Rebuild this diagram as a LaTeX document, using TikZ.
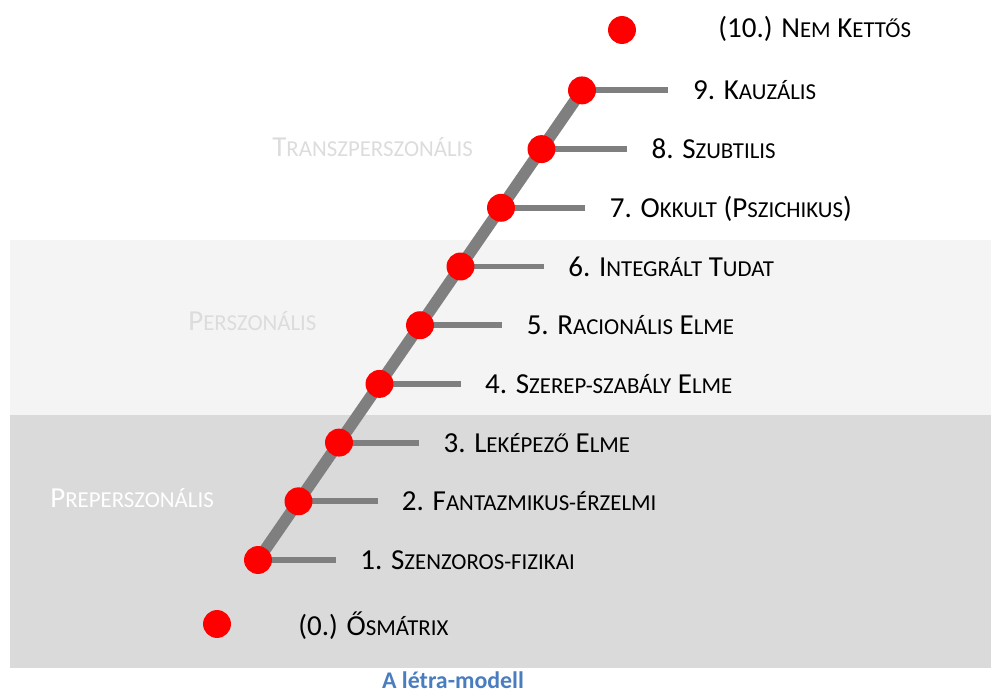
\documentclass[tikz,border=0pt]{standalone}
\usepackage{fontspec}
\setmainfont{Carlito}
\definecolor{letra}{HTML}{7F7F7F}
\definecolor{vilagos}{HTML}{F4F4F4}
\definecolor{sotet}{HTML}{DADADA}
\definecolor{halvany}{HTML}{DCDCDC}
\definecolor{felirat}{HTML}{4A7DC0}
\newcommand\kis[1]{{\fontsize{13pt}{14pt}\selectfont #1}}
\begin{document}
\begin{tikzpicture}[x=0.02cm,y=-0.02cm,
	pont/.style={circle,fill=red,minimum size=15.9pt,inner sep=0pt},
	fok/.style={line width=3.4pt,draw=letra},
	szoveg/.style={anchor=base west,inner sep=0pt,font=\fontsize{16.5pt}{18pt}\selectfont},
	szint/.style={szoveg,text=halvany}]
		\useasboundingbox (0,0) rectangle (991,693);
		
		% sávok
		\fill[vilagos] (10,240) rectangle (991,415);
		\fill[sotet] (10,415) rectangle (991,668);
		
		\node[szint] (transz) at (272,156) {T\kis{RANSZPERSZONÁLIS}};
		\node[szint] (persz) at (188,330) {P\kis{ERSZONÁLIS}};
		\node[szint,text=white] (prepersz) at (50,507) {P\kis{REPERSZONÁLIS}};
		
		% létra és fokok
		\foreach \i in {1,...,9}
		\coordinate (p\i) at ({258+(\i-1)*40.5},{560-(\i-1)*58.7});
		\foreach \i in {1,...,9}
		\coordinate (v\i) at ({336+(\i-1)*41.5},{560-(\i-1)*58.7});
		\draw[letra,line width=6.6pt] (p1) -- (p9);
		\foreach \i in {1,...,9}
		\draw[fok] (p\i) -- (v\i);
		\foreach \i in {1,...,9}
		\node[pont] (d\i) at (p\i) {};
		\node[pont] (d0) at (217,624) {};
		\node[pont] (d10) at (622,30) {};
		
		% szintek
		\foreach \i/\t in {1/{1. S\kis{ZENZOROS-FIZIKAI}},
			2/{2. F\kis{ANTAZMIKUS-ÉRZELMI}},
			3/{3. L\kis{EKÉPEZŐ} E\kis{LME}},
			4/{4. S\kis{ZEREP-SZABÁLY} E\kis{LME}},
			5/{5. R\kis{ACIONÁLIS} E\kis{LME}},
			6/{6. I\kis{NTEGRÁLT} T\kis{UDAT}},
			7/{7. O\kis{KKULT} (P\kis{SZICHIKUS})},
			8/{8. S\kis{ZUBTILIS}},
			9/{9. K\kis{AUZÁLIS}}}
		\node[szoveg] (l\i) at ({360+(\i-1)*41.6},{569.5-(\i-1)*58.7}) {\t};
		\node[szoveg] (l0) at (298,635) {(0.) Ő\kis{SMÁTRIX}};
		\node[szoveg] (l10) at (718,37) {(10.) N\kis{EM} K\kis{ETTŐS}};
		
		\node[anchor=base,inner sep=0pt,text depth=0pt,text=felirat,font=\fontsize{13.6pt}{15pt}\selectfont\bfseries] (cim) at (453,688) {A létra-modell};
	\end{tikzpicture}
\end{document}
